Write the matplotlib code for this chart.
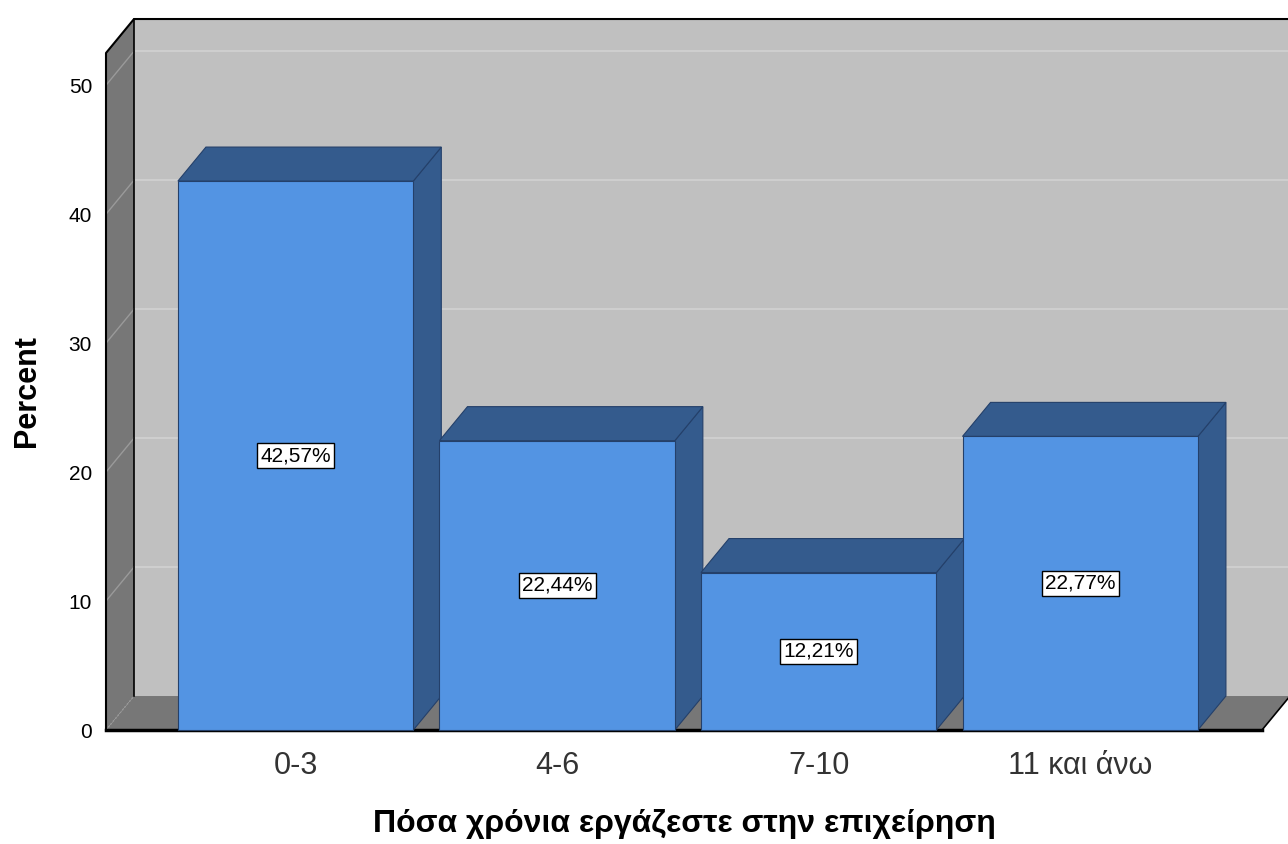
import matplotlib.pyplot as plt
import numpy as np

plt.rcParams['font.family'] = ['Liberation Sans', 'DejaVu Sans']

# data
categories = ["0-3", "4-6", "7-10", "11 και άνω"]
percent = [42.57, 22.44, 12.21, 22.77]
labels = ["42,57%", "22,44%", "12,21%", "22,77%"]
yticks = [0, 10, 20, 30, 40, 50]

#%%
fig = plt.figure(figsize=(12.88, 8.44), dpi=100)
W, H = 1288, 844
ax = fig.add_axes([106/W, (H-730)/H, (1262-106)/W, 677/H])

x0, x1 = -0.725, 3.695
top = 52.5
dx = 28/261.5      # depth in x units
dy = 34/12.9       # depth in percent units
bw = 0.9

wall_c = "#c0c0c0"
side_c = "#777777"
grid_c = "#d2d2d2"
front_c = "#5394e3"
dark_c = "#345b8d"
edge_c = "#24406a"

# back wall
ax.fill([x0+dx, x1+dx, x1+dx, x0+dx], [dy, dy, top+dy, top+dy],
        color=wall_c, lw=0, clip_on=False, zorder=1)
for v in yticks[1:]:
    ax.plot([x0+dx, x1+dx], [v+dy, v+dy], c=grid_c, lw=1.2, clip_on=False, zorder=2)
# left wall
ax.fill([x0, x0+dx, x0+dx, x0], [0, dy, top+dy, top],
        color=side_c, lw=0, clip_on=False, zorder=1)
for v in yticks[1:]:
    ax.plot([x0, x0+dx], [v, v+dy], c="#9a9a9a", lw=1, clip_on=False, zorder=2)
# floor
ax.fill([x0, x1, x1+dx, x0+dx], [0, 0, dy, dy],
        color=side_c, lw=0, clip_on=False, zorder=1)
ax.plot([x0, x0+dx], [0, dy], c="#9a9a9a", lw=1, ls=":", clip_on=False, zorder=2)
# wall edges
ax.plot([x0, x0, x0+dx, x1+dx], [0, top, top+dy, top+dy], c="black", lw=1.5,
        clip_on=False, zorder=3)
ax.plot([x0+dx, x0+dx], [top+dy, dy], c="black", lw=1.2,
        clip_on=False, zorder=3)
ax.plot([x1, x1+dx], [0, dy], c="black", lw=1.2, clip_on=False, zorder=3)
ax.plot([x0, x1], [0, 0], c="black", lw=2.5, clip_on=False, zorder=3)

# bars
for i, v in enumerate(percent):
    l, r = i-bw/2, i+bw/2
    ax.fill([r, r+dx, r+dx, r], [0, dy, v+dy, v], color=dark_c, ec=edge_c,
            lw=0.8, clip_on=False, zorder=4)
    ax.fill([l, r, r+dx, l+dx], [v, v, v+dy, v+dy], color=dark_c, ec=edge_c,
            lw=0.8, clip_on=False, zorder=4)
    ax.fill([l, r, r, l], [0, 0, v, v], color=front_c, ec=edge_c,
            lw=0.8, clip_on=False, zorder=5)
    ax.text(i, v/2, labels[i], ha="center", va="center", fontsize=15, zorder=6,
            bbox=dict(boxstyle="square,pad=0.15", fc="white", ec="black", lw=1))

ax.set_xlim(x0, x1)
ax.set_ylim(0, top)
ax.set_xticks(range(len(categories)))
ax.set_xticklabels(categories, fontsize=22, color="#333333")
ax.set_yticks(yticks)
ax.set_yticklabels([str(t) for t in yticks], fontsize=15)
ax.tick_params(axis="x", length=0, pad=15)
ax.tick_params(axis="y", length=0, pad=10)
for s in ax.spines.values():
    s.set_visible(False)
ax.patch.set_alpha(0)
ax.set_xlabel("Πόσα χρόνια εργάζεστε στην επιχείρηση", fontsize=23,
              fontweight="bold", labelpad=20)
ax.set_ylabel("Percent", fontsize=22, fontweight="bold", labelpad=19)

fig.savefig("out.png", dpi=100)
